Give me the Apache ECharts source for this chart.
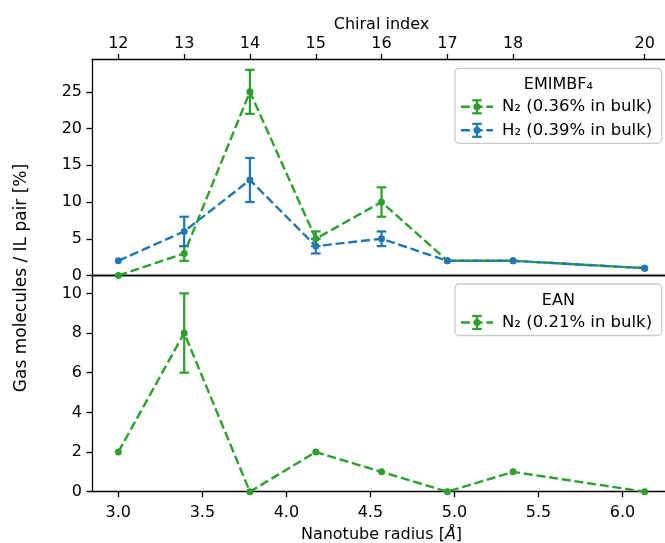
<!DOCTYPE html>
<html>
<head>
<meta charset="utf-8">
<script src="https://cdn.jsdelivr.net/npm/echarts@6/dist/echarts.min.js"></script>
<style>
  html, body { margin: 0; padding: 0; background: #fff; }
  #chart { width: 665px; height: 543px; }
</style>
</head>
<body>
<div id="chart"></div>
<script>
// Nanotube radius (Å) for each zigzag chiral index
const chiralIndex = [12, 13, 14, 15, 16, 17, 18, 20];
const radius = [3.000, 3.392, 3.783, 4.175, 4.566, 4.958, 5.349, 6.132];

// EMIMBF4: gas molecules per IL pair [%] and uncertainties
const emimN2 = [0, 3, 25, 5, 10, 2, 2, 1];
const emimN2Err = [0, 1, 3, 1, 2, 0, 0, 0];
const emimH2 = [2, 6, 13, 4, 5, 2, 2, 1];
const emimH2Err = [0, 2, 3, 1, 1, 0, 0, 0];

// EAN: gas molecules per IL pair [%] and uncertainties
const eanN2 = [2, 8, 0, 2, 1, 0, 1, 0];
const eanN2Err = [0, 2, 0, 0, 0, 0, 0, 0];

// Tick values
const radiusTicks = [3.0, 3.5, 4.0, 4.5, 5.0, 5.5, 6.0];
const topYTicks = [0, 5, 10, 15, 20, 25];
const bottomYTicks = [0, 2, 4, 6, 8, 10];

// Legend labels
const topLegendTitle = 'EMIMBF₄';
const topLegendLabels = ['N₂ (0.36% in bulk)', 'H₂ (0.39% in bulk)'];
const bottomLegendTitle = 'EAN';
const bottomLegendLabels = ['N₂ (0.21% in bulk)'];

const GREEN = '#2ca02c';
const BLUE = '#1f77b4';
const FONT = 'DejaVu Sans';
const FS = 16;
const SPINE = { show: true, lineStyle: { color: '#000', width: 1.3 } };
const TICK = { show: true, inside: false, length: 5.5, lineStyle: { color: '#000', width: 1.3 } };
const LABEL = { color: '#000', fontFamily: FONT, fontSize: FS, margin: 10 };

const xMin = 2.8434, xMax = 6.2886;

function points(xs, ys) { return xs.map((x, i) => [x, ys[i]]); }
function errPoints(xs, ys, es) {
  const out = [];
  xs.forEach((x, i) => { if (es[i] > 0) out.push([x, ys[i] - es[i], ys[i] + es[i]]); });
  return out;
}

function lineSeries(xi, yi, data, color) {
  return {
    type: 'line', xAxisIndex: xi, yAxisIndex: yi, data: data,
    symbol: 'circle', symbolSize: 7, showSymbol: true,
    itemStyle: { color: color },
    lineStyle: { color: color, width: 2.4, type: [9, 3.8] },
    clip: false
  };
}

function errorSeries(xi, yi, data, color) {
  return {
    type: 'custom', xAxisIndex: xi, yAxisIndex: yi, data: data,
    encode: { x: 0, y: [1, 2] },
    renderItem: function (params, api) {
      const x = api.value(0);
      const top = api.coord([x, api.value(2)]);
      const bot = api.coord([x, api.value(1)]);
      const hw = 4.8;
      const st = { stroke: color, lineWidth: 2.2 };
      return {
        type: 'group',
        children: [
          { type: 'line', shape: { x1: top[0], y1: top[1], x2: bot[0], y2: bot[1] }, style: st },
          { type: 'line', shape: { x1: top[0] - hw, y1: top[1], x2: top[0] + hw, y2: top[1] }, style: st },
          { type: 'line', shape: { x1: bot[0] - hw, y1: bot[1], x2: bot[0] + hw, y2: bot[1] }, style: st }
        ]
      };
    },
    clip: false
  };
}

// Legend box in the upper right corner of a panel
function legendBox(left, top, width, title, labels, colors) {
  const rowH = 23.5;
  const height = 30 + labels.length * rowH - 2;
  const els = [{
    type: 'rect', shape: { x: left, y: top, width: width, height: height, r: 4 },
    style: { fill: 'rgba(255,255,255,0.8)', stroke: '#cccccc', lineWidth: 1.3 }, z: 50
  }, {
    type: 'text', x: left + width / 2, y: top + 17,
    style: { text: title, font: FS + 'px ' + FONT, fill: '#000', align: 'center', verticalAlign: 'middle' }, z: 51
  }];
  labels.forEach((lab, i) => {
    const y = top + 38.5 + i * rowH;
    const hx0 = left + 6, hx1 = left + 38, cx = (hx0 + hx1) / 2;
    const c = colors[i];
    els.push(
      { type: 'line', shape: { x1: hx0, y1: y, x2: hx1, y2: y }, style: { stroke: c, lineWidth: 2.4, lineDash: [8.9, 3.8] }, z: 51 },
      { type: 'line', shape: { x1: cx, y1: y - 6.5, x2: cx, y2: y + 6.5 }, style: { stroke: c, lineWidth: 2.2 }, z: 51 },
      { type: 'line', shape: { x1: cx - 4.8, y1: y - 6.5, x2: cx + 4.8, y2: y - 6.5 }, style: { stroke: c, lineWidth: 2.2 }, z: 51 },
      { type: 'line', shape: { x1: cx - 4.8, y1: y + 6.5, x2: cx + 4.8, y2: y + 6.5 }, style: { stroke: c, lineWidth: 2.2 }, z: 51 },
      { type: 'circle', shape: { cx: cx, cy: y, r: 3.5 }, style: { fill: c }, z: 51 },
      { type: 'text', x: left + 47, y: y,
        style: { text: lab, font: '16.5px ' + FONT, fill: '#000', align: 'left', verticalAlign: 'middle' }, z: 51 }
    );
  });
  return els;
}

function chiralFor(v) {
  let best = 0;
  radius.forEach((r, i) => { if (Math.abs(r - v) < Math.abs(radius[best] - v)) best = i; });
  return String(chiralIndex[best]);
}

const chart = echarts.init(document.getElementById('chart'), null, { renderer: 'canvas' });

const option = {
  animation: false,
  backgroundColor: '#fff',
  grid: [
    { left: 92, width: 579, top: 59.5, height: 216, outerBoundsMode: 'none', containLabel: false },
    { left: 92, width: 579, top: 275.5, height: 216.2, outerBoundsMode: 'none', containLabel: false }
  ],
  xAxis: [
    { // top panel, lower edge
      gridIndex: 0, type: 'value', position: 'bottom', min: xMin, max: xMax,
      axisLine: SPINE, axisTick: { show: false }, axisLabel: { show: false }, splitLine: { show: false }
    },
    { // top panel, chiral index scale
      gridIndex: 0, type: 'value', position: 'top', min: xMin, max: xMax,
      axisLine: SPINE,
      axisTick: Object.assign({}, TICK, { customValues: radius }),
      axisLabel: Object.assign({}, LABEL, { margin: 8, customValues: radius, formatter: chiralFor }),
      splitLine: { show: false },
      name: 'Chiral index', nameLocation: 'middle', nameGap: 27,
      nameTextStyle: { color: '#000', fontFamily: FONT, fontSize: FS }
    },
    { // bottom panel, radius scale
      gridIndex: 1, type: 'value', position: 'bottom', min: xMin, max: xMax,
      axisLine: SPINE,
      axisTick: Object.assign({}, TICK, { customValues: radiusTicks }),
      axisLabel: Object.assign({}, LABEL, { margin: 13, customValues: radiusTicks, formatter: v => v.toFixed(1) }),
      splitLine: { show: false },
      name: 'Nanotube radius [{i|Å}]', nameLocation: 'middle', nameGap: 35,
      nameTextStyle: {
        color: '#000', fontFamily: FONT, fontSize: FS,
        rich: { i: { fontStyle: 'italic', fontFamily: FONT, fontSize: FS, color: '#000' } }
      }
    },
    { // bottom panel, upper edge
      gridIndex: 1, type: 'value', position: 'top', min: xMin, max: xMax,
      axisLine: SPINE, axisTick: { show: false }, axisLabel: { show: false }, splitLine: { show: false }
    }
  ],
  yAxis: [
    {
      gridIndex: 0, type: 'value', min: 0, max: 29.4,
      axisLine: SPINE,
      axisTick: Object.assign({}, TICK, { customValues: topYTicks }),
      axisLabel: Object.assign({}, LABEL, { customValues: topYTicks }),
      splitLine: { show: false }
    },
    {
      gridIndex: 1, type: 'value', min: 0, max: 10.9,
      axisLine: SPINE,
      axisTick: Object.assign({}, TICK, { customValues: bottomYTicks }),
      axisLabel: Object.assign({}, LABEL, { customValues: bottomYTicks }),
      splitLine: { show: false }
    }
  ],
  series: [
    lineSeries(0, 0, points(radius, emimN2), GREEN),
    errorSeries(0, 0, errPoints(radius, emimN2, emimN2Err), GREEN),
    lineSeries(0, 0, points(radius, emimH2), BLUE),
    errorSeries(0, 0, errPoints(radius, emimH2, emimH2Err), BLUE),
    lineSeries(2, 1, points(radius, eanN2), GREEN),
    errorSeries(2, 1, errPoints(radius, eanN2, eanN2Err), GREEN)
  ],
  graphic: [
    {
      type: 'text', x: 22, y: 278, rotation: Math.PI / 2,
      style: { text: 'Gas molecules / IL pair [%]', font: '17px ' + FONT, fill: '#000', align: 'center', verticalAlign: 'middle' }
    }
  ].concat(
    legendBox(455, 68.3, 206.7, topLegendTitle, topLegendLabels, [GREEN, BLUE]),
    legendBox(455, 284, 206.7, bottomLegendTitle, bottomLegendLabels, [GREEN])
  )
};

chart.setOption(option);
</script>
</body>
</html>
